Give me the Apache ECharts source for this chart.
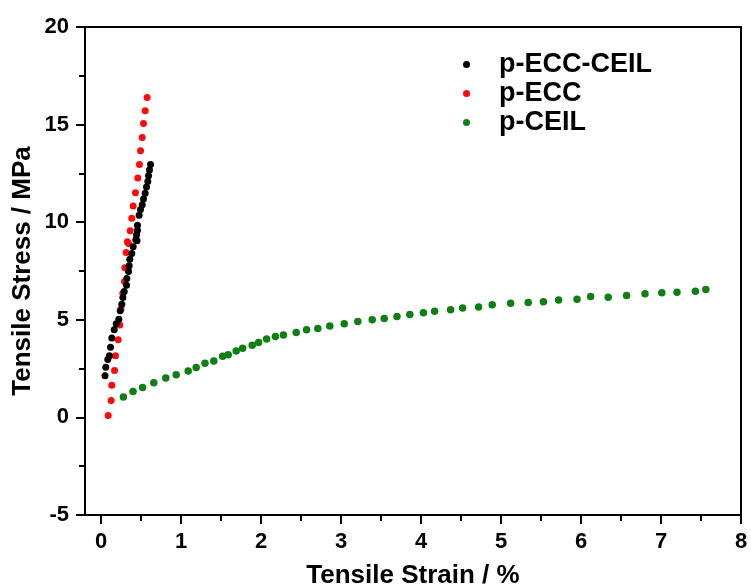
<!DOCTYPE html>
<html>
<head>
<meta charset="utf-8">
<script src="https://cdn.jsdelivr.net/npm/echarts@6/dist/echarts.min.js"></script>
<style>
html,body{margin:0;padding:0;background:#fff;}
#c{width:751px;height:588px;}
</style>
</head>
<body>
<div id="c"></div>
<script>
// ---- data ----
const seriesNames = ['p-ECC-CEIL', 'p-ECC', 'p-CEIL'];

const eccCeilX = [0.05,0.06,0.085,0.106,0.119,0.135,0.165,0.19,0.223,0.24,0.26,0.273,0.29,0.319,0.323,0.344,0.352,0.36,0.385,0.402,0.435,0.444,0.45,0.456,0.456,0.477,0.494,0.515,0.531,0.552,0.569,0.585,0.594,0.606,0.619];
const eccCeilY = [2.14,2.57,2.96,3.16,3.59,4.07,4.49,4.80,5.03,5.46,5.80,6.14,6.45,6.77,7.11,7.47,7.77,8.10,8.40,8.74,9.10,9.34,9.05,9.59,9.85,10.36,10.65,10.90,11.19,11.48,11.80,12.09,12.38,12.67,12.96];

const eccX = [0.09,0.127,0.135,0.169,0.181,0.215,0.235,0.25,0.273,0.294,0.298,0.315,0.33,0.344,0.365,0.385,0.402,0.431,0.46,0.481,0.494,0.515,0.531,0.552,0.577];
const eccY = [0.10,0.87,1.65,2.40,3.16,3.98,4.74,5.55,6.36,6.96,7.67,8.45,9.0,8.91,9.56,10.20,10.83,11.51,12.26,12.96,13.66,14.34,15.05,15.71,16.39];

const ceilX = [0.28,0.40,0.52,0.66,0.81,0.94,1.09,1.19,1.30,1.41,1.52,1.59,1.69,1.77,1.89,1.97,2.07,2.18,2.28,2.44,2.57,2.71,2.86,3.04,3.21,3.39,3.54,3.70,3.86,4.03,4.17,4.37,4.52,4.72,4.89,5.12,5.34,5.53,5.72,5.95,6.12,6.34,6.57,6.80,7.01,7.20,7.43,7.56];
const ceilY = [1.05,1.33,1.53,1.77,2.02,2.19,2.38,2.55,2.77,2.89,3.13,3.21,3.40,3.54,3.69,3.84,4.01,4.15,4.22,4.35,4.49,4.56,4.68,4.80,4.91,5.00,5.07,5.17,5.27,5.36,5.44,5.51,5.61,5.66,5.77,5.85,5.88,5.93,6.02,6.05,6.19,6.16,6.24,6.33,6.39,6.41,6.46,6.55];

const xMajorTicks = [0,1,2,3,4,5,6,7,8];
const xMinorTicks = [0.5,1.5,2.5,3.5,4.5,5.5,6.5,7.5];
const xRange = [-0.2, 8];
const yRange = [-5, 20];
const yStep = 5;

const xTitle = 'Tensile Strain / %';
const yTitle = 'Tensile Stress / MPa';

// ---- build ----
function pairs(xs, ys){ return xs.map((x,i)=>[x, ys[i]]); }
const colors = ['#000000', '#ff0a0a', '#0f7f14'];
const FONT = 'Liberation Sans';

const chart = echarts.init(document.getElementById('c'), null, {renderer:'canvas'});
chart.setOption({
  backgroundColor: '#ffffff',
  animation: false,
  grid: {left: 85, right: 10, top: 27, bottom: 73, containLabel: false, outerBoundsMode: 'none',
         show: true, borderColor: '#000', borderWidth: 2, backgroundColor: 'transparent'},
  legend: {
    orient: 'vertical',
    left: 458, top: 46,
    itemWidth: 7, itemHeight: 7, itemGap: 2,
    icon: 'circle',
    data: seriesNames,
    textStyle: {fontFamily: FONT, fontWeight: 'bold', fontSize: 27, color: '#000', padding: [0,0,0,24]}
  },
  xAxis: [{
    type: 'value', min: xRange[0], max: xRange[1], position: 'bottom',
    name: xTitle, nameLocation: 'middle', nameGap: 48, nameMoveOverlap: false,
    nameTextStyle: {fontFamily: FONT, fontWeight: 'bold', fontSize: 26, color: '#000'},
    axisLine: {show: true, onZero: false, lineStyle: {color: '#000', width: 2}},
    axisTick: {show: true, customValues: xMajorTicks, length: 9, lineStyle: {color: '#000', width: 2}},
    axisLabel: {show: true, customValues: xMajorTicks, margin: 16, fontFamily: FONT, fontWeight: 'bold', fontSize: 22, color: '#000'},
    splitLine: {show: false}
  },{
    type: 'value', min: xRange[0], max: xRange[1], position: 'bottom',
    axisLine: {show: false, onZero: false},
    axisTick: {show: true, customValues: xMinorTicks, length: 6, lineStyle: {color: '#000', width: 2}},
    axisLabel: {show: false},
    splitLine: {show: false}
  }],
  yAxis: {
    type: 'value', min: yRange[0], max: yRange[1], interval: yStep,
    name: yTitle, nameLocation: 'middle', nameGap: 49, nameMoveOverlap: false,
    nameTextStyle: {fontFamily: FONT, fontWeight: 'bold', fontSize: 26, color: '#000'},
    axisLine: {show: true, onZero: false, lineStyle: {color: '#000', width: 2}},
    axisTick: {show: true, length: 9, lineStyle: {color: '#000', width: 2}},
    minorTick: {show: true, splitNumber: 2, length: 6, lineStyle: {color: '#000', width: 2}},
    axisLabel: {margin: 16, fontFamily: FONT, fontWeight: 'bold', fontSize: 22, color: '#000'},
    splitLine: {show: false}
  },
  series: [
    {name: seriesNames[0], type: 'scatter', xAxisIndex: 0, data: pairs(eccCeilX, eccCeilY), symbolSize: 7, itemStyle: {color: colors[0], opacity: 1}, z: 4},
    {name: seriesNames[1], type: 'scatter', xAxisIndex: 0, data: pairs(eccX, eccY), symbolSize: 7, itemStyle: {color: colors[1], opacity: 1}, z: 3},
    {name: seriesNames[2], type: 'scatter', xAxisIndex: 0, data: pairs(ceilX, ceilY), symbolSize: 7.5, itemStyle: {color: colors[2], opacity: 1}, z: 3}
  ]
});
</script>
</body>
</html>
